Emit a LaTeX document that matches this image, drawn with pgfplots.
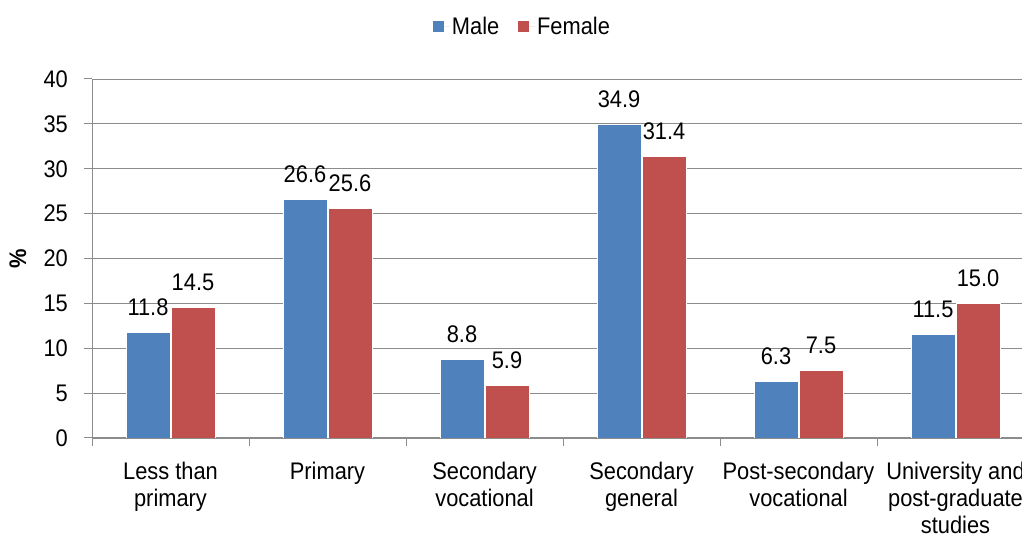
\documentclass[border=0pt]{standalone}
\usepackage{fontspec}
\setmainfont{Liberation Sans}[FakeStretch=0.91]
\usepackage{pgfplots}
\pgfplotsset{compat=1.18}
\definecolor{male}{HTML}{4F81BD}
\definecolor{female}{HTML}{C0504D}
\definecolor{gridc}{HTML}{8C8C8C}
\begin{document}
\begin{tikzpicture}[font=\fontsize{24}{27}\selectfont]
\useasboundingbox (0,0) rectangle (1022pt,540pt);
\begin{axis}[
 at={(92pt,102pt)}, anchor=south west,
 scale only axis, width=942pt, height=359pt,
 xmin=-0.5, xmax=5.5, ymin=0, ymax=40,
 ytick={0,5,...,40},
 xtick={-0.5,0.5,...,5.5},
 x tick label as interval,
 xticklabels={Less than\\primary, Primary, Secondary\\vocational, Secondary\\general, Post-secondary\\vocational, University and\\post-graduate\\studies},
 axis x line*=bottom, axis y line*=left,
 axis line style={gridc, line width=1pt, -},
 ymajorgrids, grid style={gridc, line width=0.8pt},
 major tick length=8pt,
 tick align=outside,
 tick style={gridc, line width=1pt},
 /pgf/number format/assume math mode=true,
 /pgf/number format/.cd, fixed, fixed zerofill, precision=1, /pgfplots/.cd,
 yticklabel={\pgfmathprintnumber[fixed, precision=0]{\tick}},
 xticklabel style={align=center, anchor=north, inner sep=0pt, yshift=-16pt},
 yticklabel style={anchor=east, inner sep=0pt, xshift=-16pt},
 ylabel={\textbf{\%}},
 ylabel style={at={(axis description cs:-0.0786,0.5)}, anchor=center},
 ybar=1pt, bar width=44pt,
 nodes near coords,
 every node near coord/.append style={anchor=base, inner sep=0pt, yshift=17pt, text=black},
 legend style={at={(axis description cs:0.4565,1.145)}, anchor=center, draw=none, fill=none,
   legend columns=2, /tikz/every even column/.append style={column sep=16pt}},
 legend image code/.code={\path (0pt,0pt) -- (17pt,0pt); \fill[#1,draw=none] (0pt,-5pt) rectangle (11pt,6pt);},
]
\addplot[fill=male, draw=white, line width=0.8pt] coordinates {(0,11.8) (1,26.6) (2,8.8) (3,34.9) (4,6.3) (5,11.5)};
\addplot[fill=female, draw=white, line width=0.8pt] coordinates {(0,14.5) (1,25.6) (2,5.9) (3,31.4) (4,7.5) (5,15.0)};
\legend{Male, Female}
\end{axis}
\end{tikzpicture}
\end{document}
